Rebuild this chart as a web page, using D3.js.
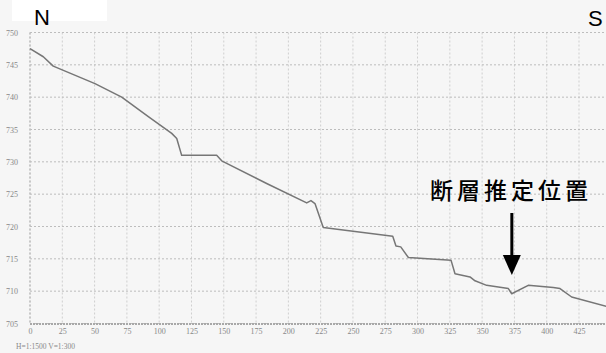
<!DOCTYPE html>
<html><head><meta charset="utf-8">
<script src="https://cdn.jsdelivr.net/npm/d3@7"></script>
<style>
html,body{margin:0;padding:0;background:#f6f6f6;overflow:hidden}
svg{display:block}
</style></head>
<body><svg id="c" width="606" height="353"></svg>
<script>
// distance along profile (m)
const distance = [0, 10.3, 18.0, 50.3, 71.0, 91.6, 109.7, 113.6, 117.4, 144.5, 148.4, 183.2, 214.2, 217.5, 220.6, 227.0, 280.8, 283.3, 287.0, 292.9, 325.9, 329.0, 340.6, 344.5, 353.5, 370.3, 372.9, 385.7, 405.1, 410.3, 419.3, 446];
// elevation (m)
const elevation = [747.5, 746.25, 744.8, 742.1, 740.0, 737.0, 734.4, 733.6, 731.0, 731.0, 730.15, 726.65, 723.65, 724.0, 723.55, 719.85, 718.5, 717.0, 716.85, 715.2, 714.8, 712.7, 712.2, 711.6, 710.9, 710.4, 709.6, 710.9, 710.55, 710.4, 709.1, 707.65];
const xTicks = [0, 25, 50, 75, 100, 125, 150, 175, 200, 225, 250, 275, 300, 325, 350, 375, 400, 425];
const xGrid = [0, 25, 50, 75, 100, 125, 150, 175, 200, 225, 250, 275, 300, 325, 350, 375, 400, 425, 450];
const yTicks = [705, 710, 715, 720, 725, 730, 735, 740, 745, 750];
const leftLabel = "N", rightLabel = "S";
const faultLabel = "断層推定位置";
const faultDistance = 373;
const scaleNote = "H=1:1500  V=1:300";

const svg = d3.select("#c");
const x = d3.scaleLinear().domain([0, 450]).range([30, 30 + 450 * 1.2918]);
const y = d3.scaleLinear().domain([705, 750]).range([323.5, 32.5]);

svg.append("rect").attr("width", 606).attr("height", 353).attr("fill", "#f6f6f6");
svg.append("rect").attr("x", 12).attr("y", 0).attr("width", 95).attr("height", 21).attr("fill", "#ffffff");

const grid = svg.append("g");
grid.selectAll("line.v").data(xGrid).join("line")
  .attr("x1", d => x(d)).attr("x2", d => x(d)).attr("y1", y(750)).attr("y2", y(705))
  .attr("stroke", "#cfcfcf").attr("stroke-width", 1).attr("stroke-dasharray", "2,2");
grid.selectAll("line.h").data(yTicks).join("line")
  .attr("x1", x(0)).attr("x2", x(450)).attr("y1", d => y(d)).attr("y2", d => y(d))
  .attr("stroke", "#bdbdbd").attr("stroke-width", 1).attr("stroke-dasharray", "2,2");
// bottom axis (doubled dashed)
svg.append("line").attr("x1", x(0)).attr("x2", x(450)).attr("y1", y(705) + 0.5).attr("y2", y(705) + 0.5)
  .attr("stroke", "#a8a8a8").attr("stroke-width", 2).attr("stroke-dasharray", "2,1");
svg.append("line").attr("x1", x(0)).attr("x2", x(0)).attr("y1", y(750)).attr("y2", y(705))
  .attr("stroke", "#c0c0c0").attr("stroke-width", 1.5).attr("stroke-dasharray", "2,2");

const xAxis = svg.append("g").attr("transform", `translate(0,${y(705) + 3})`)
  .call(d3.axisBottom(x).tickValues(xTicks).tickSize(0).tickPadding(2).tickFormat(d3.format("d")));
xAxis.select(".domain").remove();
xAxis.selectAll("text").attr("font-family", "'Liberation Serif', serif").attr("font-size", 8).attr("fill", "#888");

const yAxis = svg.append("g").attr("transform", `translate(${x(0) - 12},0)`)
  .call(d3.axisLeft(y).tickValues(yTicks).tickSize(0).tickPadding(0).tickFormat(d3.format("d")));
yAxis.select(".domain").remove();
yAxis.selectAll("text").attr("font-family", "'Liberation Serif', serif").attr("font-size", 8).attr("fill", "#888");

const line = d3.line().x((d, i) => x(distance[i])).y((d, i) => y(elevation[i]));
svg.append("path").datum(elevation).attr("d", line)
  .attr("fill", "none").attr("stroke", "#767676").attr("stroke-width", 1.5).attr("stroke-linejoin", "round");

svg.append("text").attr("x", 16).attr("y", 349).text(scaleNote)
  .attr("font-family", "'Liberation Serif', serif").attr("font-size", 7.5).attr("fill", "#888");

svg.append("text").attr("x", 34).attr("y", 25).text(leftLabel)
  .attr("font-family", "'Liberation Sans', Arial, sans-serif").attr("font-size", 22).attr("fill", "#000");
svg.append("text").attr("x", 588).attr("y", 26).text(rightLabel)
  .attr("font-family", "'Liberation Sans', Arial, sans-serif").attr("font-size", 22).attr("fill", "#000");

svg.append("text").attr("x", 430).attr("y", 199).text(faultLabel)
  .attr("font-family", "'Noto Sans CJK JP', sans-serif").attr("font-size", 23).attr("font-weight", 500)
  .attr("letter-spacing", 4).attr("fill", "#000");

const ax = x(faultDistance);
svg.append("line").attr("x1", ax).attr("x2", ax).attr("y1", 213).attr("y2", 257)
  .attr("stroke", "#000").attr("stroke-width", 3);
svg.append("path").attr("d", `M${ax - 9},255 L${ax + 9},255 L${ax},275 Z`).attr("fill", "#000");
</script></body></html>
